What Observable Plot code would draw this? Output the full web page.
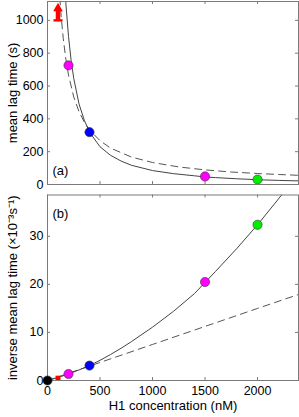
<!DOCTYPE html>
<html>
<head>
<meta charset="utf-8">
<script src="https://cdn.jsdelivr.net/npm/d3@7"></script>
<script src="https://cdn.jsdelivr.net/npm/@observablehq/plot@0.6"></script>
<style>
  html, body { margin: 0; padding: 0; background: white; }
  #chart { width: 299px; height: 417px; position: relative; }
  #chart svg { display: block; }
</style>
</head>
<body>
<div id="chart"></div>
<script>
// ---- data ----
// measured points
const pointConc   = [200, 400, 1500, 2000];
const pointLag    = [726, 319, 49, 30];          // mean lag time (s)
const pointColor  = ["#ff00ff", "#0000ff", "#ff00ff", "#00ee00"];
const invConc     = [0, 200, 400, 1500, 2000];
const invLag      = [0, 1.35, 3.1, 20.5, 32.4];  // ×10^-3 s^-1
const invColor    = ["#000000", "#ff00ff", "#0000ff", "#ff00ff", "#00ee00"];
// lower bound (red) at 100 nM
const boundConc = 100;
const boundLag = 1000;     // lag > 1000 s
const boundInv = 0.9;      // inverse < ~1

// fitted curves
const solidAConc = [165, 175, 200, 225, 250, 300, 350, 400, 500, 600, 700, 800, 1000, 1200, 1400, 1500, 1600, 1800, 2000, 2200, 2390];
const solidALag  = [1200, 1102, 902, 756, 646, 491, 392, 319, 230, 178, 143, 117, 85, 66, 53, 46, 42, 35, 29, 25, 22];
const dashAConc  = [110, 118, 130, 150, 175, 200, 250, 300, 350, 400, 500, 600, 800, 1000, 1250, 1500, 1750, 2000, 2200, 2390];
const dashALag   = [1210, 1130, 1025, 889, 762, 667, 533, 444, 381, 333, 267, 222, 167, 134, 107, 89, 76, 67, 61, 56];
const solidBConc = [0, 100, 200, 300, 400, 500, 600, 700, 800, 900, 1000, 1200, 1400, 1500, 1600, 1800, 2000, 2200, 2300];
const solidBInv  = [0, 0.62, 1.35, 2.2, 3.1, 4.2, 5.4, 6.7, 8.1, 9.6, 11.1, 14.4, 18.1, 20.4, 22.7, 27.4, 32.4, 37.8, 40.6];
const dashBConc  = [0, 500, 1000, 1500, 2000, 2390];
const dashBInv   = [0, 3.75, 7.5, 11.25, 15.0, 17.9];

// ticks / labels
const xTicks = [0, 500, 1000, 1500, 2000];
const yTicksA = [0, 200, 400, 600, 800, 1000];
const yTicksB = [0, 10, 20, 30];
const labelA = "mean lag time (s)";
const labelB = "inverse mean lag time (×10⁻³s⁻¹)";
const labelX = "H1 concentration (nM)";

// ---- build tables ----
const ptsA = pointConc.map((c, i) => ({c, v: pointLag[i], col: pointColor[i]}));
const ptsB = invConc.map((c, i) => ({c, v: invLag[i], col: invColor[i]}));
const solA = solidAConc.map((c, i) => ({c, v: solidALag[i]}));
const dshA = dashAConc.map((c, i) => ({c, v: dashALag[i]}));
const solB = solidBConc.map((c, i) => ({c, v: solidBInv[i]}));
const dshB = dashBConc.map((c, i) => ({c, v: dashBInv[i]}));
const bound = [{c: boundConc, lag: boundLag, inv: boundInv}];

const W = 299, ML = 47, MR = 1;
const innerW = W - ML - MR;
const font = {fontFamily: "'Liberation Sans', Arial, Helvetica, sans-serif", fontSize: "12.5px", color: "black", background: "white", overflow: "visible"};
const frameColor = "#7a7a7a";
const tickLen = 3;
const fmt = d3.format("d");
const capSymbol = {draw(ctx) { ctx.rect(-4.5, -1.2, 9, 2.4); }};
const headSymbol = {draw(ctx) { ctx.moveTo(0, -4.5); ctx.lineTo(4.8, 4); ctx.lineTo(-4.8, 4); ctx.closePath(); }};

function tickMarks(innerH, yTicks) {
  return [
    Plot.tickY(yTicks, {y: d => d, insetRight: innerW - tickLen, stroke: frameColor}),
    Plot.tickY(yTicks, {y: d => d, insetLeft: innerW - tickLen, stroke: frameColor}),
    Plot.tickX(xTicks, {x: d => d, insetTop: innerH - tickLen, stroke: frameColor}),
    Plot.tickX(xTicks, {x: d => d, insetBottom: innerH - tickLen, stroke: frameColor})
  ];
}

// ---- panel (a) ----
const hA = 186, mtA = 1, mbA = 2;
const plotA = Plot.plot({
  width: W, height: hA,
  marginLeft: ML, marginRight: MR, marginTop: mtA, marginBottom: mbA,
  style: font,
  x: {domain: [0, 2390], axis: null},
  y: {domain: [0, 1115], axis: null},
  marks: [
    ...tickMarks(hA - mtA - mbA, yTicksA),
    Plot.line(dshA, {x: "c", y: "v", stroke: "#555", strokeWidth: 1, strokeDasharray: "7,5", clip: true}),
    Plot.line(solA, {x: "c", y: "v", stroke: "#444", strokeWidth: 1, clip: true}),
    Plot.ruleX(bound, {x: "c", y1: "lag", y2: d => d.lag + 55, stroke: "#ff0000", strokeWidth: 4.5}),
    Plot.dot(bound, {x: "c", y: d => d.lag + 80, symbol: headSymbol, fill: "#ff0000"}),
    Plot.dot(bound, {x: "c", y: "lag", symbol: capSymbol, fill: "#ff0000"}),
    Plot.dot(ptsA, {x: "c", y: "v", fill: "col", r: 4.6, stroke: "#333", strokeWidth: 0.6}),
    Plot.frame({stroke: frameColor}),
    Plot.axisY(yTicksA, {tickSize: 0, tickPadding: 4, label: null, tickFormat: fmt}),
    Plot.text([labelA], {frameAnchor: "left", dx: -35, rotate: -90, textAnchor: "middle", fontSize: 13}),
    Plot.text(["(a)"], {frameAnchor: "bottom-left", dx: 5, dy: -10, textAnchor: "start", fontSize: 13})
  ]
});

// ---- panel (b) ----
const hB = 231, mtB = 8.5, mbB = 37;
const plotB = Plot.plot({
  width: W, height: hB,
  marginLeft: ML, marginRight: MR, marginTop: mtB, marginBottom: mbB,
  style: font,
  x: {domain: [0, 2390], axis: null},
  y: {domain: [0, 38.6], axis: null},
  marks: [
    ...tickMarks(hB - mtB - mbB, yTicksB),
    Plot.line(dshB, {x: "c", y: "v", stroke: "#555", strokeWidth: 1, strokeDasharray: "7,5", clip: true}),
    Plot.line(solB, {x: "c", y: "v", stroke: "#444", strokeWidth: 1, clip: true}),
    Plot.frame({stroke: frameColor}),
    Plot.axisY(yTicksB, {tickSize: 0, tickPadding: 4, label: null, tickFormat: fmt}),
    Plot.axisX(xTicks, {tickSize: 0, tickPadding: 6, label: null, tickFormat: fmt}),
    Plot.ruleX(bound, {x: "c", y1: 0, y2: "inv", stroke: "#ff0000", strokeWidth: 5}),
    Plot.dot(ptsB, {x: "c", y: "v", fill: "col", r: 4.6, stroke: "#333", strokeWidth: 0.6}),
    Plot.text([labelB], {frameAnchor: "left", dx: -35, rotate: -90, textAnchor: "middle", fontSize: 13}),
    Plot.text([labelX], {frameAnchor: "bottom", dy: 29, textAnchor: "middle", fontSize: 13}),
    Plot.text(["(b)"], {frameAnchor: "top-left", dx: 5, dy: 14, textAnchor: "start", fontSize: 13})
  ]
});

const chart = document.getElementById("chart");
chart.appendChild(plotA);
chart.appendChild(plotB);
</script>
</body>
</html>
